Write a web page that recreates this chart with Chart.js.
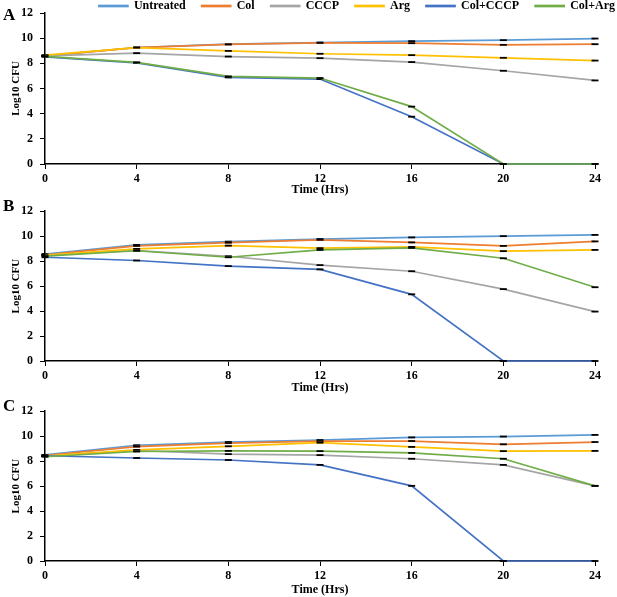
<!DOCTYPE html>
<html>
<head>
<meta charset="utf-8">
<script src="https://cdn.jsdelivr.net/npm/chart.js@4.4.1/dist/chart.umd.min.js"></script>
<style>
  body { margin: 0; width: 617px; height: 597px; overflow: hidden; background: #fff; position: relative; }
  .panel { position: absolute; left: 0; }
  .tag { position: absolute; left: 3px; font: bold 17px "Liberation Serif", serif; line-height: 1; }
</style>
</head>
<body>
<div class="panel" style="top:-16px"><canvas id="chartA" width="631" height="213"></canvas></div>
<div class="panel" style="top:197px"><canvas id="chartB" width="617" height="200"></canvas></div>
<div class="panel" style="top:397px"><canvas id="chartC" width="617" height="200"></canvas></div>
<div class="tag" style="top:6px">A</div>
<div class="tag" style="top:197px">B</div>
<div class="tag" style="top:397px">C</div>
<script>
const hours = [0, 4, 8, 12, 16, 20, 24]
const seriesNames = ['Untreated', 'Col', 'CCCP', 'Arg', 'Col+CCCP', 'Col+Arg']

// panel A
const untreatedA = [8.6, 9.26, 9.52, 9.65, 9.76, 9.84, 9.97]
const colA = [8.6, 9.25, 9.5, 9.63, 9.6, 9.47, 9.52]
const cccpA = [8.6, 8.81, 8.54, 8.41, 8.1, 7.41, 6.64]
const argA = [8.65, 9.25, 8.99, 8.76, 8.65, 8.44, 8.22]
const colCccpA = [8.52, 8.04, 6.88, 6.75, 3.76, 0, 0]
const colArgA = [8.55, 8.08, 6.96, 6.83, 4.56, 0, 0]

// panel B
const untreatedB = [8.57, 9.3, 9.56, 9.77, 9.9, 10.0, 10.1]
const colB = [8.5, 9.22, 9.48, 9.71, 9.5, 9.22, 9.58]
const cccpB = [8.5, 8.85, 8.39, 7.68, 7.19, 5.76, 3.96]
const argB = [8.46, 8.98, 9.24, 9.04, 9.14, 8.8, 8.9]
const colCccpB = [8.31, 8.05, 7.6, 7.34, 5.34, 0, 0]
const colArgB = [8.4, 8.83, 8.31, 8.9, 9.06, 8.23, 5.91]

// panel C
const untreatedC = [8.5, 9.27, 9.53, 9.69, 9.9, 9.97, 10.1]
const colC = [8.45, 9.16, 9.45, 9.61, 9.61, 9.35, 9.53]
const cccpC = [8.4, 8.85, 8.56, 8.48, 8.19, 7.7, 6.02]
const argC = [8.4, 8.9, 9.19, 9.48, 9.14, 8.8, 8.82]
const colCccpC = [8.43, 8.25, 8.09, 7.7, 6.02, 0, 0]
const colArgC = [8.35, 8.77, 8.82, 8.8, 8.66, 8.19, 6.02]

const colors = ['#5B9BD5', '#ED7D31', '#A5A5A5', '#FFC000', '#4472C4', '#70AD47']
const serif = '"Liberation Serif", "Times New Roman", serif'

function MakeDatasets(seriesList) {
    return seriesList.map((values, i) => ({
        label: seriesNames[i],
        data: values,
        borderColor: colors[i],
        backgroundColor: colors[i],
        borderWidth: 1.7,
        tension: 0,
        clip: false,
        // little black caps standing in for the error bars
        pointStyle: 'line',
        pointRadius: 3.5,
        pointBorderColor: '#000',
        pointBorderWidth: 1.8,
        pointHoverRadius: 3.5,
        // later series drawn on top, like the original
        order: seriesList.length - i,
    }))
}

// squeeze the legend so the top plot starts right under it
const legendHeight = {
    id: 'legendHeight',
    beforeInit(chart, args, opts) {
        if (!chart.legend || !opts.height) return
        const fit = chart.legend.fit
        chart.legend.fit = function () {
            fit.call(this)
            this.height = opts.height
        }
    }
}

function DrawPanel(id, seriesList, layout) {
    new Chart(document.getElementById(id), {
        type: 'line',
        data: { labels: hours, datasets: MakeDatasets(seriesList) },
        plugins: [legendHeight],
        options: {
            responsive: false,
            animation: false,
            events: [],
            layout: { padding: { top: layout.padTop, left: 0, right: 0, bottom: 0 } },
            scales: {
                x: {
                    grid: { display: true, drawOnChartArea: false, drawTicks: true, tickLength: 5, color: '#000', lineWidth: 1 },
                    border: { color: '#000', width: 1.5 },
                    ticks: { color: '#000', font: { family: serif, size: 12, weight: 'bold' }, padding: 3, maxRotation: 0 },
                    title: { display: true, text: 'Time (Hrs)', color: '#000', font: { family: serif, size: 12, weight: 'bold' }, padding: { top: 0, bottom: layout.titlePad } },
                    afterFit(scale) {
                        scale.height = layout.xHeight
                        scale.paddingRight = layout.rightPad
                    }
                },
                y: {
                    min: 0,
                    max: 12,
                    grid: { display: true, drawOnChartArea: false, drawTicks: true, tickLength: 5, color: '#000', lineWidth: 1 },
                    border: { color: '#000', width: 1.5 },
                    ticks: { stepSize: 2, color: '#000', font: { family: serif, size: 12, weight: 'bold' }, padding: 7 },
                    title: { display: true, text: 'Log10 CFU', color: '#000', font: { family: serif, size: 11, weight: 'bold' }, padding: { top: 10, bottom: 0 } },
                    afterFit(scale) {
                        scale.width = 45
                    }
                }
            },
            plugins: {
                legend: {
                    display: layout.legend,
                    position: 'top',
                    align: 'end',
                    labels: {
                        color: '#000',
                        font: { family: serif, size: 12, weight: 'bold' },
                        boxWidth: 29,
                        boxHeight: 1,
                        padding: 16,
                        sort: (a, b) => a.datasetIndex - b.datasetIndex
                    }
                },
                legendHeight: { height: layout.legendH },
                tooltip: { enabled: false }
            }
        }
    })
}

DrawPanel('chartA', [untreatedA, colA, cccpA, argA, colCccpA, colArgA],
    { legend: true, legendH: 29, padTop: 0, xHeight: 33, titlePad: 0, rightPad: 36 })
DrawPanel('chartB', [untreatedB, colB, cccpB, argB, colCccpB, colArgB],
    { legend: false, legendH: 0, padTop: 10, xHeight: 36, titlePad: 2, rightPad: 22 })
DrawPanel('chartC', [untreatedC, colC, cccpC, argC, colCccpC, colArgC],
    { legend: false, legendH: 0, padTop: 11, xHeight: 36, titlePad: 0, rightPad: 22 })
</script>
</body>
</html>
